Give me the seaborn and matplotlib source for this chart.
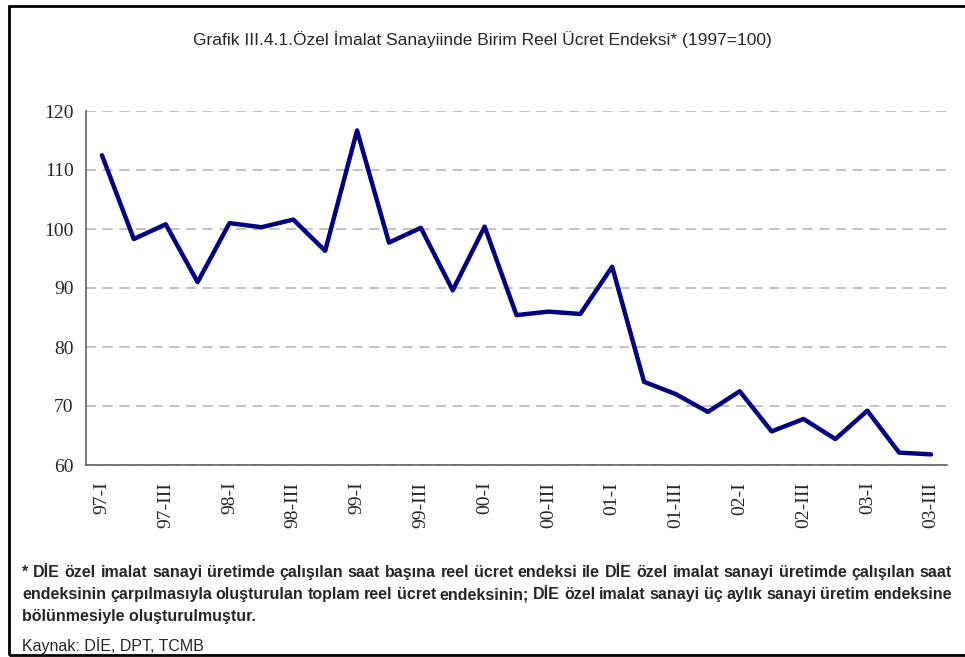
import pandas as pd
import matplotlib
matplotlib.use("Agg")
import matplotlib.pyplot as plt
import seaborn as sns
from matplotlib.patches import Rectangle

# quarterly index values, 1997=100
years = ["97", "98", "99", "00", "01", "02", "03"]
quarter_names = ["I", "II", "III", "IV"]
quarters = [f"{y}-{q}" for y in years for q in quarter_names][:27]
values = [112.5, 98.3, 100.8, 91.0, 101.0, 100.3, 101.6, 96.3,
          116.7, 97.7, 100.2, 89.6, 100.4, 85.4, 86.0, 85.6,
          93.6, 74.1, 72.0, 69.0, 72.5, 65.7, 67.8, 64.4,
          69.2, 62.1, 61.8]
yticks = [60, 70, 80, 90, 100, 110, 120]

title = "Grafik III.4.1.Özel İmalat Sanayiinde Birim Reel Ücret Endeksi* (1997=100)"
note_lines = [
    "* DİE özel imalat sanayi üretimde çalışılan saat başına reel ücret endeksi ile DİE özel imalat sanayi üretimde çalışılan saat",
    "endeksinin çarpılmasıyla oluşturulan toplam reel ücret endeksinin; DİE özel imalat sanayi üç aylık sanayi üretim endeksine",
    "bölünmesiyle oluşturulmuştur.",
]
source = "Kaynak: DİE, DPT, TCMB"

df = pd.DataFrame({"quarter": quarters, "endeks": values})

sns.set_style("white")
plt.rcParams["font.family"] = ["Liberation Sans", "DejaVu Sans"]

W, H = 965, 657
fig = plt.figure(figsize=(W / 100, H / 100), dpi=100)
ax = fig.add_axes([86 / W, 1 - 465 / H, 861 / W, 354 / H])

sns.lineplot(data=df, x="quarter", y="endeks", sort=False, color="#000080",
             linewidth=3.2, ax=ax)

ax.set_xlim(-0.5, len(quarters) - 0.5)
ax.set_ylim(60, 120)
ax.set_yticks(yticks)
ax.set_yticklabels([str(v) for v in yticks], family="Liberation Serif", fontsize=14)
ax.yaxis.grid(True, color="#b8b8b8", linestyle=(0, (6, 4)), linewidth=1.2)
ax.xaxis.grid(False)

pos = list(range(0, len(quarters), 2))
ax.set_xticks(pos)
ax.set_xticklabels([quarters[i] for i in pos], rotation=90,
                   family="Liberation Serif", fontsize=14)
ax.set_xticks([i - 0.5 for i in range(len(quarters) + 1)], minor=True)
ax.tick_params(axis="x", which="major", length=0, pad=12)
ax.tick_params(axis="x", which="minor", length=5, width=1, color="#404040",
               direction="out")
ax.tick_params(axis="y", length=6, width=1, color="#404040", direction="out", pad=3)
ax.set_xlabel("")
ax.set_ylabel("")

for s in ["top", "right"]:
    ax.spines[s].set_visible(False)
for s in ["left", "bottom"]:
    ax.spines[s].set_color("#606060")
    ax.spines[s].set_linewidth(1.2)

fig.text(0.5, 1 - 40 / H, title, ha="center", va="center", fontsize=12.5)

# footnote, first two lines justified to the frame width
renderer = fig.canvas.get_renderer()
left_px, right_px = 22, 952
base0 = 577  # baseline of first footnote line, px from top
for i, line in enumerate(note_lines):
    yf = 1 - (base0 + 22 * i) / H
    if i == len(note_lines) - 1:
        fig.text(left_px / W, yf, line, ha="left", va="baseline",
                 fontsize=11.5, fontweight="bold")
        continue
    words = line.split(" ")
    texts = [fig.text(0, yf, w, ha="left", va="baseline", fontsize=11.5,
                      fontweight="bold") for w in words]
    widths = [t.get_window_extent(renderer).width for t in texts]
    gap = (right_px - left_px - sum(widths)) / (len(words) - 1)
    x = left_px
    for t, w in zip(texts, widths):
        t.set_x(x / W)
        x += w + gap
fig.text(left_px / W, 1 - 651 / H, source, ha="left", va="baseline", fontsize=11.5)

fig.add_artist(Rectangle((8.5 / W, 2 / H), 970 / W, 649 / H,
                         transform=fig.transFigure, fill=False,
                         edgecolor="black", linewidth=2, clip_on=False))

fig.savefig("out.png", dpi=100)
